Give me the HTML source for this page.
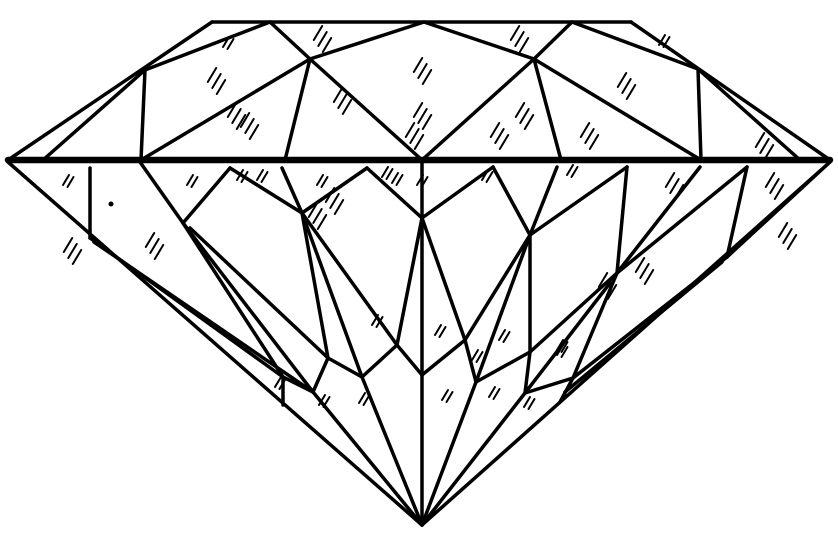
<!DOCTYPE html>
<html><head><meta charset="utf-8"><style>html,body{margin:0;padding:0;background:#fff}svg{display:block}</style></head>
<body>
<svg id="d" width="838" height="541" viewBox="0 0 838 541" xmlns="http://www.w3.org/2000/svg">
<g id="facets" stroke="#000" stroke-width="3.5" stroke-linecap="round" fill="none"></g>
<g id="hatch" stroke="#000" stroke-width="2" stroke-linecap="round"></g>
<line x1="8" y1="160" x2="830" y2="160" stroke="#000" stroke-width="6.5" stroke-linecap="round"/>
<circle cx="111" cy="204" r="2.5" fill="#000"/>
</svg>
<script>
const segs = [
[212,22,631,22],[8,160,212,22],[631,22,830,160],
[43,160,145,70],[145,70,270,22],[145,70,141,160],[141,160,310,59],[310,59,270,22],[310,59,424,22],
[310,59,285,160],[310,59,422,160],[422,160,534,59],[534,59,424,22],[534,59,572,22],[534,59,561,160],
[534,59,701,160],[698,69,572,22],[698,69,701,160],[698,69,800,160],
[8,162,422,525],[830,162,422,525],[422,160,422,525],
[90,168,90,238],[90,238,283,377],[94,242,313,392],[283,377,283,405],[283,377,313,392],
[140,162,183,223],[183,223,230,168],[183,223,283,377],[183,223,313,392],[190,228,328,358],
[230,168,302,213],[302,213,282,168],[302,213,367,168],[367,168,422,218],[302,213,328,358],
[302,213,362,377],[302,213,397,345],[397,345,422,218],[397,345,422,375],[397,345,362,377],
[328,358,362,377],[328,358,313,392],[362,377,422,525],[313,392,422,525],
[422,218,493,167],[493,167,530,235],[530,235,557,167],[530,235,627,167],[530,235,530,352],
[530,235,465,340],[422,218,465,340],[465,340,476,382],[465,340,422,375],[530,235,476,382],
[476,382,530,352],[476,382,422,525],[530,352,525,393],[525,393,422,525],[525,393,573,378],
[573,378,560,402],[530,352,617,273],[617,273,627,167],[617,273,700,167],[617,273,747,167],
[747,167,727,257],[727,257,830,162],[610,283,525,393],[617,273,573,378],[573,378,727,257],[565,392,722,262]
];
const hatchX = [226,318,515,662,212,232,338,418,418,520,622,245,66,410,495,585,760,68,150,190,260,320,385,240,485,570,670,770,
330,313,375,438,475,502,560,603,640,783,278,322,362,445,492,527,560,420,395];
const hatchY = [42,33,33,40,75,110,95,65,110,110,80,120,180,130,130,130,140,245,240,180,175,180,172,175,175,170,180,180,
195,210,320,330,355,335,345,280,265,230,382,400,398,395,392,402,350,180,178];
const hatchN = [2,3,3,2,3,3,3,3,3,3,3,3,2,3,3,3,3,3,3,2,2,2,2,2,2,2,3,3,
3,3,2,2,2,2,2,3,3,3,2,2,2,2,2,2,2,2,2];
const NS='http://www.w3.org/2000/svg';
const fg=document.getElementById('facets');
segs.forEach(s=>{const l=document.createElementNS(NS,'line');
l.setAttribute('x1',s[0]);l.setAttribute('y1',s[1]);l.setAttribute('x2',s[2]);l.setAttribute('y2',s[3]);


fg.appendChild(l);});
const hg=document.getElementById('hatch');
hatchX.forEach((x,i)=>{const y=hatchY[i];const n=hatchN[i];const h=n===3?7:5;
for(let k=0;k<n;k++){const l=document.createElementNS(NS,'line');
const ox=x+k*4.5, oy=y+k*(n===3?6:2);
l.setAttribute('x1',ox-h*0.6);l.setAttribute('y1',oy+h);l.setAttribute('x2',ox+h*0.6);l.setAttribute('y2',oy-h);


hg.appendChild(l);}});
</script>
</body></html>
